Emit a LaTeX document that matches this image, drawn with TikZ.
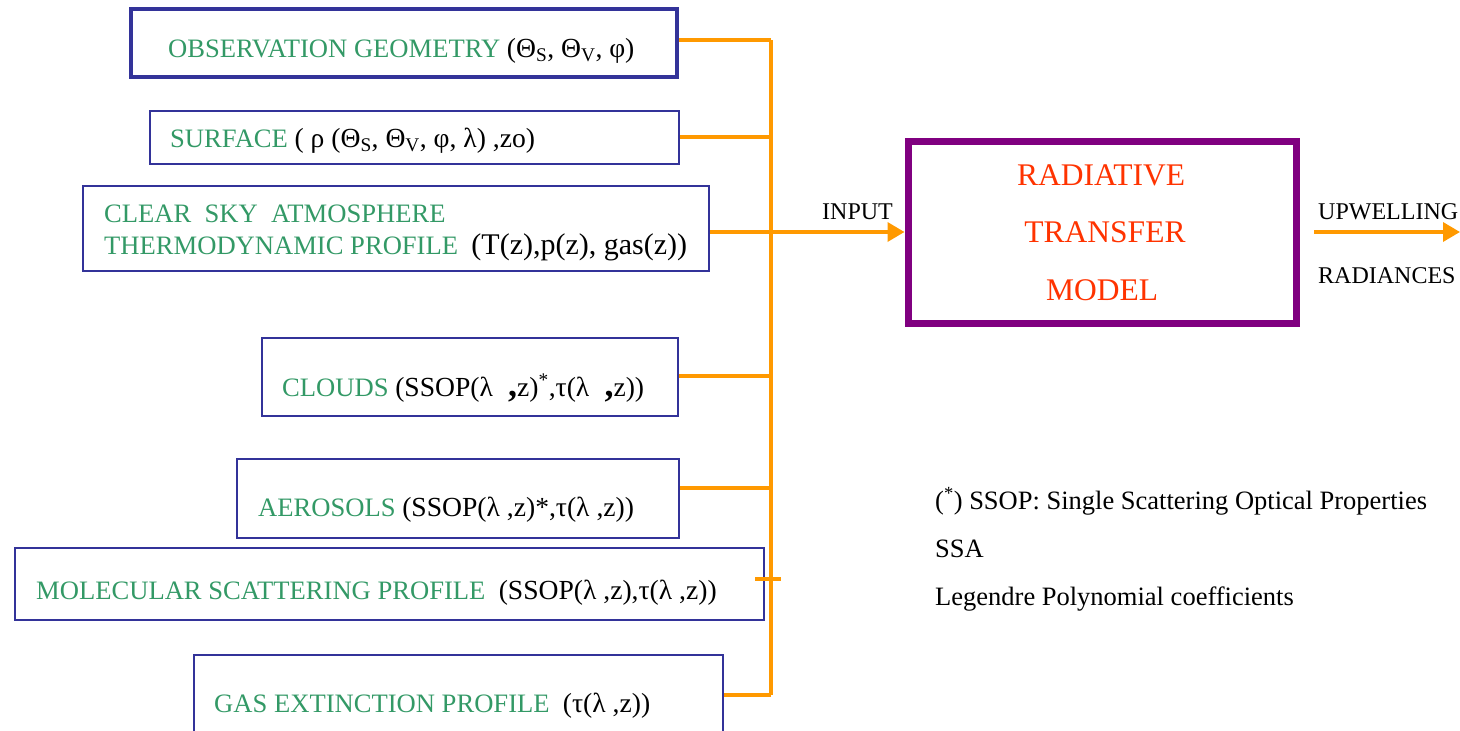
\documentclass[tikz,border=0pt]{standalone}
\usepackage{fontspec}
\setmainfont{Liberation Serif}
\usetikzlibrary{arrows.meta,calc}
\definecolor{txtgreen}{RGB}{51,153,102}
\definecolor{boxblue}{RGB}{51,51,153}
\definecolor{busorange}{RGB}{255,153,0}
\definecolor{rtmpurple}{RGB}{128,0,128}
\definecolor{rtmred}{RGB}{255,51,0}
\newcommand\mainsz{\fontsize{26.6}{30}\selectfont}
\newcommand\sidesz{\fontsize{24}{28}\selectfont}
\newcommand\notesz{\fontsize{26.5}{30}\selectfont}
\newcommand\bigsz{\fontsize{31.5}{36}\selectfont}
\newcommand\gr[1]{{\color{txtgreen}#1}}
% black parameter lists are set a little larger than the green names
\newcommand\bk[1]{{\fontsize{27.6}{30}\selectfont #1}}
\newcommand\bkk[1]{{\fontsize{30}{32}\selectfont #1}}
\newcommand\bigcomma{{\fontsize{36}{36}\selectfont\bfseries ,}}
\begin{document}
\begin{tikzpicture}[x=1pt,y=-1pt,
  inbox/.style={draw=boxblue,line width=2pt,inner sep=0pt,rectangle},
  lbl/.style={anchor=base west,inner sep=0pt,font=\mainsz},
  side/.style={anchor=base west,inner sep=0pt,font=\sidesz},
  note/.style={anchor=base west,inner sep=0pt,font=\notesz},
  rtmtxt/.style={anchor=base,inner sep=0pt,font=\bigsz,text=rtmred},
  bus/.style={draw=busorange,line width=3.5pt},
  flow/.style={bus,-{Triangle[length=17pt,width=19pt]}}]
\useasboundingbox (0,0) rectangle (1460,731);
\clip (0,0) rectangle (1460,731);

% input boxes
\node[inbox,line width=4pt,minimum width=546pt,minimum height=68pt] (obs) at (404,43) {};
\node[inbox,minimum width=529pt,minimum height=53pt] (surf) at (414.5,137.5) {};
\node[inbox,minimum width=626pt,minimum height=85pt] (sky) at (396,228.5) {};
\node[inbox,minimum width=416pt,minimum height=78pt] (cld) at (470,377) {};
\node[inbox,minimum width=442pt,minimum height=79pt] (aer) at (458,498.5) {};
\node[inbox,minimum width=749pt,minimum height=72pt] (mol) at (389.5,584) {};
\node[inbox,minimum width=529pt,minimum height=92pt] (gas) at (458.5,701) {};

% box texts
\node[lbl] (obsT) at (168,57) {\gr{OBSERVATION GEOMETRY} \bk{(Θ\textsubscript{S}, Θ\textsubscript{V}, φ)}};
\node[lbl] (surfT) at (170,147) {\gr{SURFACE} \bk{( ρ (Θ\textsubscript{S}, Θ\textsubscript{V}, φ, λ) ,zo)}};
\node[lbl] (skyT1) at (104,222) {\gr{CLEAR\ \ SKY\ \ ATMOSPHERE}};
\node[lbl] (skyT2) at (104,254) {\gr{THERMODYNAMIC PROFILE}\ \ \bkk{(T(z),p(z), gas(z))}};
\node[lbl] (cldT) at (282,396) {\gr{CLOUDS} \bk{(SSOP(λ\hspace{0.55em}\bigcomma z)\textsuperscript{*},τ(λ\hspace{0.55em}\bigcomma z))}};
\node[lbl] (aerT) at (258,516) {\gr{AEROSOLS} \bk{(SSOP(λ ,z)*,τ(λ ,z))}};
\node[lbl] (molT) at (36,599) {\gr{MOLECULAR SCATTERING PROFILE}\ \ \bk{(SSOP(λ ,z),τ(λ ,z))}};
\node[lbl] (gasT) at (214,712) {\gr{GAS EXTINCTION PROFILE}\ \ \bk{(τ(λ\ ,z))}};

% radiative transfer model
\node[draw=rtmpurple,line width=7pt,minimum width=388pt,minimum height=182pt,inner sep=0pt] (rtm) at (1102,232) {};
\node[rtmtxt] (rtm1) at (1101,185) {RADIATIVE};
\node[rtmtxt] (rtm2) at (1105,242) {TRANSFER};
\node[rtmtxt] (rtm3) at (1102,300) {MODEL};

% side labels
\node[side] (inp) at (822,219) {INPUT};
\node[side] (upw) at (1318,219) {UPWELLING};
\node[side] (rad) at (1318,283) {RADIANCES};

% footnote
\node[note] (fn1) at (935,509) {(\textsuperscript{*}) SSOP: Single Scattering Optical Properties};
\node[note] (fn2) at (935,557) {SSA};
\node[note] (fn3) at (935,605) {Legendre Polynomial coefficients};

% collecting bus
\coordinate (b1) at (771,40);
\coordinate (b2) at (771,137);
\coordinate (b3) at (771,232);
\coordinate (b4) at (771,376);
\coordinate (b5) at (771,488);
\coordinate (b6) at (771,579);
\coordinate (b7) at (771,695);
\coordinate (tickL) at (755,579);
\coordinate (tickR) at (781,579);
\coordinate (outA) at (1314,232);
\coordinate (outB) at (1460,232);

\draw[bus] (b1) -- (b7);
\draw[bus] (b1 -| obs.east) -- (b1);
\draw[bus] (b2 -| surf.east) -- (b2);
\draw[bus] (b3 -| sky.east) -- (b3);
\draw[bus] (b4 -| cld.east) -- (b4);
\draw[bus] (b5 -| aer.east) -- (b5);
\draw[bus] (tickL) -- (tickR);
\draw[bus] (b7 -| gas.east) -- (b7);
\draw[flow] (b3) -- (rtm.west);
\draw[flow] (outA) -- (outB);
\end{tikzpicture}
\end{document}
